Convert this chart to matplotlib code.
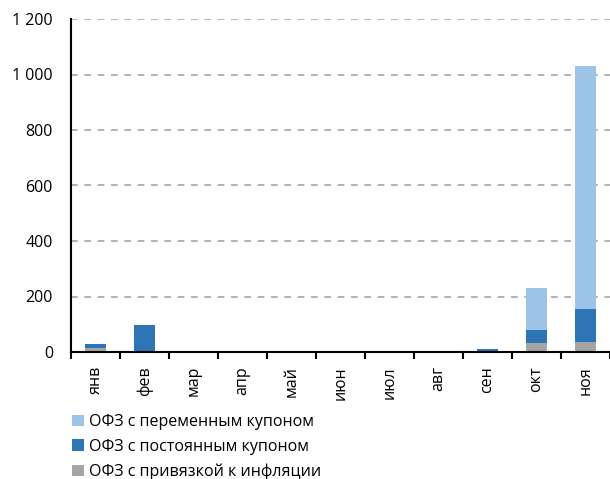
import numpy as np
import matplotlib.pyplot as plt
from matplotlib.ticker import FuncFormatter

plt.rcParams['font.family'] = ['Open Sans', 'DejaVu Sans']

months = ['янв', 'фев', 'мар', 'апр', 'май', 'июн', 'июл', 'авг', 'сен', 'окт', 'ноя']
inflation = [13, 0, 0, 0, 0, 0, 0, 0, 0, 34, 37]
fixed = [15, 99, 0, 0, 0, 0, 0, 0, 10, 45, 117]
floating = [0, 0, 0, 0, 0, 0, 0, 0, 0, 150, 878]

labels = ['ОФЗ с переменным купоном', 'ОФЗ с постоянным купоном', 'ОФЗ с привязкой к инфляции']
colors = ['#9DC3E6', '#2E75B6', '#A5A5A5']

fig = plt.figure(figsize=(6.10, 4.79), dpi=100)
ax = fig.add_axes([71 / 610, 1 - 352 / 479, 539 / 610, 333 / 479])

x = np.arange(len(months))
w = 0.41
b1 = ax.bar(x, inflation, w, color=colors[2], zorder=3)
b2 = ax.bar(x, fixed, w, bottom=inflation, color=colors[1], zorder=3)
bottom2 = np.array(inflation) + np.array(fixed)
b3 = ax.bar(x, floating, w, bottom=bottom2, color=colors[0], zorder=3)

ax.set_xlim(-0.5, len(months) - 0.5)
ax.set_ylim(0, 1200)
ax.set_yticks(np.arange(0, 1201, 200))
ax.yaxis.set_major_formatter(FuncFormatter(lambda v, p: f'{int(v):,}'.replace(',', ' ')))
ax.tick_params(axis='y', length=0, labelsize=11.5, pad=13)

ax.set_xticks(x)
ax.set_xticklabels(months, rotation=90, fontsize=11.5)
ax.tick_params(axis='x', which='major', length=0, pad=10)
ax.set_xticks(np.arange(-0.5, len(months) + 0.5, 1), minor=True)
ax.tick_params(axis='x', which='minor', length=5, width=1.5, direction='out')

ax.grid(axis='y', color='#A6A6A6', linestyle=(0, (4, 4)), linewidth=1.2, zorder=0)
for s in ['top', 'right']:
    ax.spines[s].set_visible(False)
ax.spines['left'].set_linewidth(1.5)
ax.spines['bottom'].set_linewidth(1.5)
ax.spines['bottom'].set_zorder(4)

ax.legend([b3, b2, b1], labels, loc='upper left', bbox_to_anchor=(72 / 610, 1 - 414 / 479),
          bbox_transform=fig.transFigure, frameon=False, fontsize=11.5,
          handlelength=0.75, handleheight=0.75, handletextpad=0.3, labelspacing=0.55,
          borderaxespad=0, borderpad=0)

fig.savefig('out.png', dpi=100)
